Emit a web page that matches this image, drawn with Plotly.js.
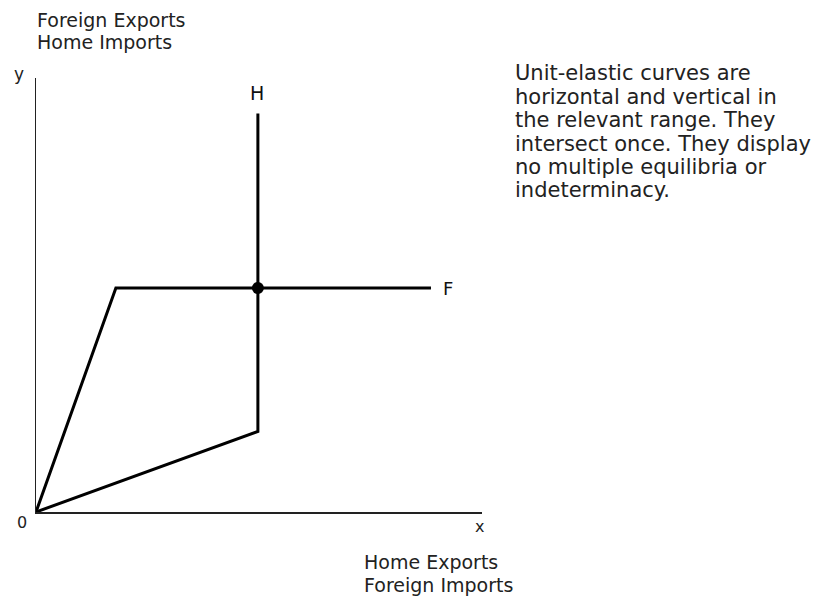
<!DOCTYPE html>
<html>
<head>
<meta charset="utf-8">
<script src="https://cdn.plot.ly/plotly-3.0.1.min.js"></script>
<style>body{margin:0;padding:0;background:#fff}#chart{width:820px;height:601px}</style>
</head>
<body>
<div id="chart"></div>
<script>
// Offer curve F (foreign): rises from origin, then horizontal
const fX = [0, 1.8, 8.9];
const fY = [0, 5, 5];
// Offer curve H (home): rises slowly from origin, then vertical
const hX = [0, 5, 5];
const hY = [0, 1.8, 8.9];
// Equilibrium point
const eqX = [5];
const eqY = [5];
const curveLabels = ['F', 'H'];
const yTitleLines = ['Foreign Exports', 'Home Imports'];
const xTitleLines = ['Home Exports', 'Foreign Imports'];
const noteLines = [
  'Unit-elastic curves are',
  'horizontal and vertical in',
  'the relevant range. They',
  'intersect once. They display',
  'no multiple equilibria or',
  'indeterminacy.'
];

const FONT = 'DejaVu Sans, sans-serif';
const M = {l: 36, r: 338, t: 78, b: 89};
const W = 820, H = 601;
const PW = W - M.l - M.r, PH = H - M.t - M.b;
const px = v => (v - M.l) / PW;
const py = v => (H - M.b - v) / PH;

function lbl(text, x, y, size, xanchor) {
  return {xref: 'paper', yref: 'paper', x: px(x), y: py(y), text: text, showarrow: false,
          xanchor: xanchor || 'center', yanchor: 'middle', align: 'left',
          font: {size: size, color: '#222', family: FONT}};
}

const traces = [
  {x: fX, y: fY, mode: 'lines', line: {color: '#000', width: 3}, hoverinfo: 'skip'},
  {x: hX, y: hY, mode: 'lines', line: {color: '#000', width: 3}, hoverinfo: 'skip'},
  {x: eqX, y: eqY, mode: 'markers', marker: {color: '#000', size: 12}, hoverinfo: 'skip'}
];

const ann = [];
ann.push({xref: 'x', yref: 'y', x: fX[2], y: fY[2], text: curveLabels[0], showarrow: false,
  xanchor: 'center', yanchor: 'middle', xshift: 17, font: {size: 18, color: '#111', family: FONT}});
ann.push({xref: 'x', yref: 'y', x: hX[2], y: hY[2], text: curveLabels[1], showarrow: false,
  xanchor: 'center', yanchor: 'middle', yshift: 20, xshift: -1, font: {size: 19, color: '#111', family: FONT}});
ann.push(lbl('0', 22, 522, 16));
ann.push(lbl('y', 19, 74, 17));
ann.push(lbl('x', 479, 526, 16));
const yTitleY = [20, 42];
yTitleLines.forEach((t, i) => ann.push(lbl(t, 35, yTitleY[i], 19, 'left')));
const xTitleY = [562, 585];
xTitleLines.forEach((t, i) => ann.push(lbl(t, 362, xTitleY[i], 19, 'left')));
const noteY = [73, 96.5, 120, 143.5, 167, 190];
noteLines.forEach((t, i) => ann.push(lbl(t, 513, noteY[i], 21, 'left')));

const layout = {
  width: W, height: H,
  margin: M,
  paper_bgcolor: '#fff', plot_bgcolor: '#fff',
  showlegend: false,
  font: {family: FONT, color: '#222'},
  xaxis: {range: [0, 10.05], showline: true, linecolor: '#222', linewidth: 1.5, showgrid: false, zeroline: false, showticklabels: false, ticks: ''},
  yaxis: {range: [0, 9.69], showline: true, linecolor: '#222', linewidth: 1.5, showgrid: false, zeroline: false, showticklabels: false, ticks: ''},
  annotations: ann
};
Plotly.newPlot('chart', traces, layout, {staticPlot: true, displayModeBar: false});
</script>
</body>
</html>
